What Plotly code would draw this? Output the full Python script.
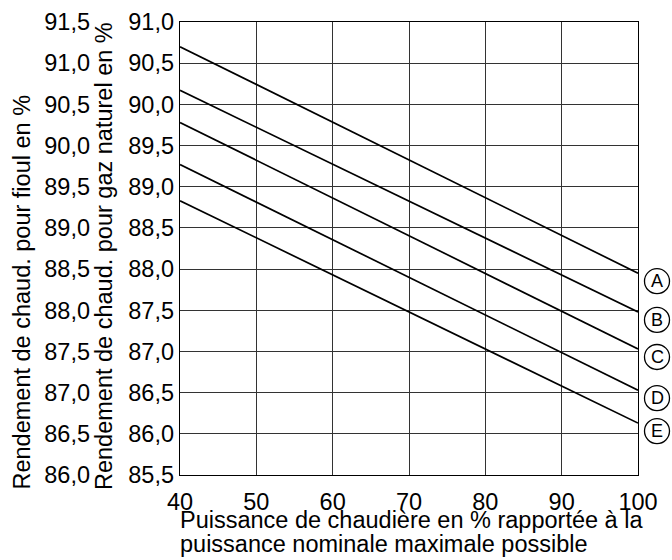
import plotly.graph_objects as go

# ---- data ----
load_pct = [40, 100]                      # x: boiler load in %
series_names = ["A", "B", "C", "D", "E"]
eff_A = [90.70, 87.95]                    # gas-axis values (%)
eff_B = [90.17, 87.48]
eff_C = [89.78, 87.03]
eff_D = [89.27, 86.53]
eff_E = [88.83, 86.13]
series_values = [eff_A, eff_B, eff_C, eff_D, eff_E]

x_ticks = [40, 50, 60, 70, 80, 90, 100]
gas_range = [85.5, 91.0]
fuel_range = [86.0, 91.5]

FONT = "Liberation Sans, Arial, sans-serif"
FS = 23.5
W, H = 672, 560
ML, MR, MT, MB = 0, 34, 22, 85
PW = W - ML - MR
plot_left_px = 180

fig = go.Figure()

for name, vals in zip(series_names, series_values):
    fig.add_trace(go.Scatter(
        x=load_pct, y=vals, mode="lines", name=name,
        line=dict(color="black", width=1.7), showlegend=False,
        hoverinfo="skip"))

# invisible trace on the fuel axis
fig.add_trace(go.Scatter(x=[load_pct[0]], y=[fuel_range[0]], yaxis="y2",
                         mode="markers", marker=dict(opacity=0),
                         showlegend=False, hoverinfo="skip"))

# circled labels just right of each line end (right edge of plot = paper x 1)
for name, vals in zip(series_names, series_values):
    fig.add_shape(type="circle", xref="paper", yref="y",
                  xsizemode="pixel", ysizemode="pixel",
                  xanchor=1, yanchor=vals[-1],
                  x0=6.5, x1=31.5, y0=-20.5, y1=4.5,
                  line=dict(color="black", width=1.3))
    fig.add_annotation(text=name, xref="x", yref="y",
                       x=load_pct[-1], y=vals[-1],
                       xshift=19, yshift=-8, showarrow=False,
                       font=dict(size=18))

axis_common = dict(zeroline=False, automargin=False, tickfont=dict(size=FS))

fig.update_layout(
    width=W, height=H,
    margin=dict(l=ML, r=MR, t=MT, b=MB, autoexpand=False),
    paper_bgcolor="white", plot_bgcolor="white",
    separators=",.",
    font=dict(family=FONT, size=FS, color="black"),
    xaxis=dict(range=[x_ticks[0], x_ticks[-1]], tickvals=x_ticks,
               domain=[plot_left_px / PW, 1],
               ticks="outside", ticklen=5, tickcolor="rgba(0,0,0,0)",
               showgrid=True, gridcolor="#333", gridwidth=1,
               showline=True, linecolor="black", linewidth=1.3, mirror=True,
               **axis_common),
    yaxis=dict(range=gas_range, dtick=0.5, tick0=85.5, tickformat=".1f",
               ticks="",
               showgrid=True, gridcolor="#333", gridwidth=1,
               showline=True, linecolor="black", linewidth=1.3, mirror=True,
               **axis_common),
    yaxis2=dict(range=fuel_range, dtick=0.5, tick0=86.0, tickformat=".1f",
                ticks="",
                overlaying="y", anchor="free", side="left",
                position=90 / PW, showgrid=False, showline=False,
                **axis_common),
)

fig.add_annotation(text="Rendement de chaud. pour fioul en %",
                   xref="paper", yref="paper", x=21 / PW, y=0,
                   xanchor="center", yanchor="bottom", yshift=-17,
                   textangle=-90, showarrow=False, font=dict(size=FS))
fig.add_annotation(text="Rendement de chaud. pour gaz naturel en %",
                   xref="paper", yref="paper", x=104 / PW, y=0,
                   xanchor="center", yanchor="bottom", yshift=-17,
                   textangle=-90, showarrow=False, font=dict(size=FS))
fig.add_annotation(text="Puissance de chaudière en % rapportée à la",
                   xref="paper", yref="paper", x=(plot_left_px - 2) / PW, y=0,
                   xanchor="left", yanchor="middle", yshift=-45,
                   showarrow=False, font=dict(size=FS))
fig.add_annotation(text="puissance nominale maximale possible",
                   xref="paper", yref="paper", x=(plot_left_px - 2) / PW, y=0,
                   xanchor="left", yanchor="middle", yshift=-69,
                   showarrow=False, font=dict(size=FS))

fig.write_html(
    "out.html",
    config={"displayModeBar": False, "staticPlot": True},
    post_script="document.body.style.margin='0';document.body.style.padding='0';",
)
